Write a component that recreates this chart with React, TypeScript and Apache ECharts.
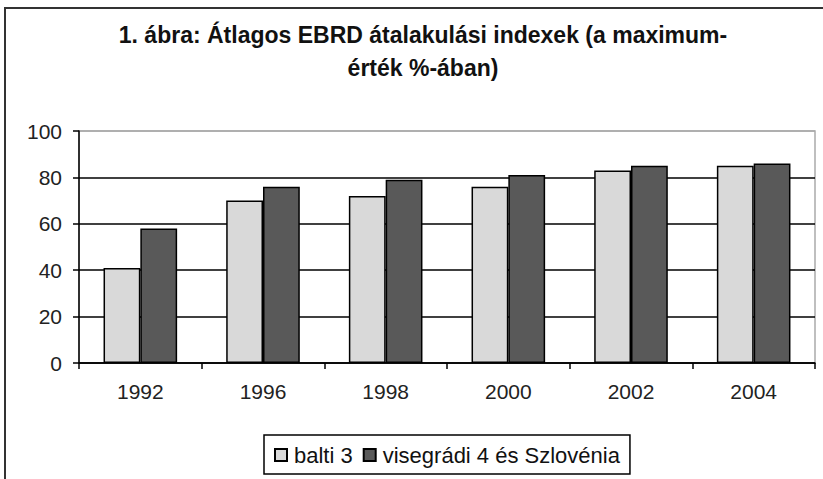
import React, { useEffect, useRef } from "react";
import * as echarts from "echarts";

const categories = ["1992", "1996", "1998", "2000", "2002", "2004"];
const balti3 = [41, 70, 72, 76, 83, 85];
const visegradi = [58, 76, 79, 81, 85, 86];
const seriesNames = ["balti 3", "visegrádi 4 és Szlovénia"];
const titleText = "1. ábra: Átlagos EBRD átalakulási indexek (a maximum-\nérték %-ában)";

export default function App() {
  const ref = useRef<HTMLDivElement>(null);
  useEffect(() => {
    if (!ref.current) return;
    const chart = echarts.init(ref.current, null, { renderer: "svg" });
    const font = "Liberation Sans";
    chart.setOption({
      animation: false,
      backgroundColor: "#fff",
      title: {
        text: titleText,
        left: 418,
        top: 13,
        textAlign: "center",
        textStyle: { fontFamily: font, fontWeight: "bold", fontSize: 23, lineHeight: 33, color: "#111" },
      },
      graphic: [
        {
          type: "rect",
          shape: { x: 5, y: 8, width: 840, height: 500 },
          style: { fill: "none", stroke: "#333", lineWidth: 2 },
          silent: true,
        },
      ],
      legend: {
        data: seriesNames,
        left: 264,
        top: 435,
        orient: "horizontal",
        borderColor: "#000",
        borderWidth: 1.5,
        padding: [9, 10, 8, 10],
        itemWidth: 12,
        itemHeight: 12,
        itemGap: 10,
        icon: "rect",
        textStyle: { fontFamily: font, fontSize: 22, color: "#111", padding: [0, 0, 0, 2] },
      },
      grid: {
        left: 79,
        right: 8,
        top: 131,
        bottom: 116,
        show: true,
        borderColor: "#aaa",
        borderWidth: 1.5,
      },
      xAxis: {
        type: "category",
        data: categories,
        axisLine: { lineStyle: { color: "#000", width: 1.5 } },
        axisTick: { show: true, length: 6, lineStyle: { color: "#000", width: 1.5 } },
        axisLabel: { fontFamily: font, fontSize: 21, color: "#222", margin: 18 },
      },
      yAxis: {
        type: "value",
        min: 0,
        max: 100,
        interval: 20,
        axisLine: { show: true, lineStyle: { color: "#000", width: 1.5 } },
        axisTick: { show: true, length: 6, lineStyle: { color: "#000", width: 1.5 } },
        axisLabel: { fontFamily: font, fontSize: 21, color: "#222", margin: 17 },
        splitLine: {
          show: true,
          lineStyle: { color: ["#000", "#000", "#000", "#000", "#000", "#aaa"], width: 1.5 },
        },
      },
      series: [
        {
          name: seriesNames[0],
          type: "bar",
          data: balti3,
          barGap: "0%",
          barCategoryGap: "40%",
          itemStyle: { color: "#d9d9d9", borderColor: "#000", borderWidth: 1.5 },
        },
        {
          name: seriesNames[1],
          type: "bar",
          data: visegradi,
          barGap: "0%",
          barCategoryGap: "40%",
          itemStyle: { color: "#595959", borderColor: "#000", borderWidth: 1.5 },
        },
      ],
    });
    return () => chart.dispose();
  }, []);
  return (
    <div
      ref={ref}
      style={{ position: "absolute", left: 0, top: 0, width: 823, height: 479 }}
    />
  );
}
